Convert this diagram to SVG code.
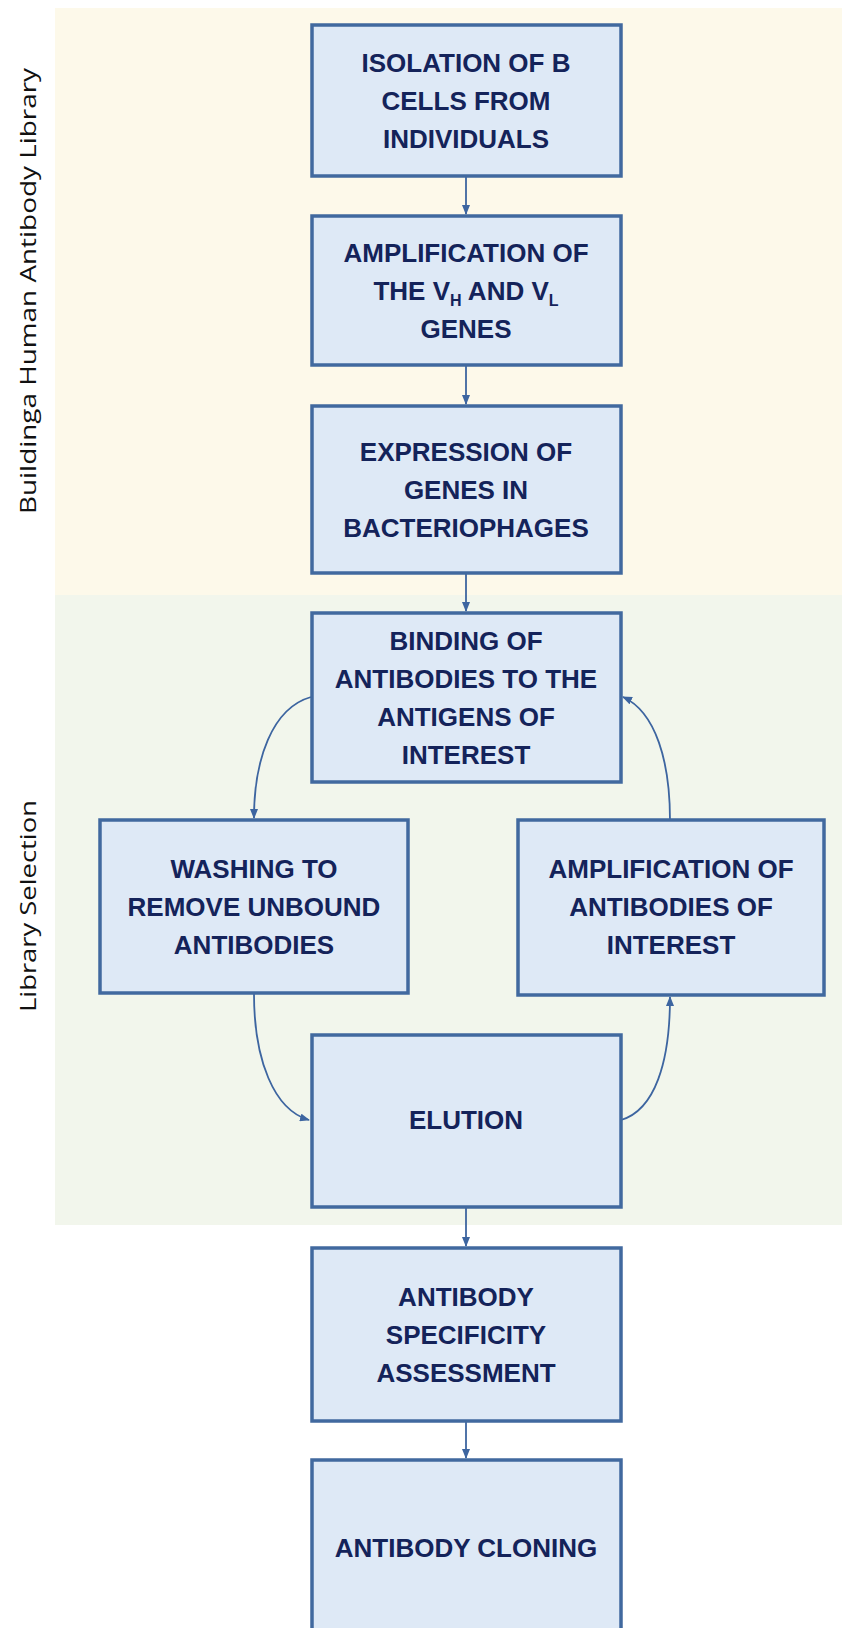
<svg xmlns="http://www.w3.org/2000/svg" width="842" height="1628" viewBox="0 0 842 1628">
<style>
.box{fill:#DEE9F6;stroke:#41699F;stroke-width:3.5}
.t{font-family:"Liberation Sans",Arial,sans-serif;font-weight:bold;font-size:26px;fill:#14235A;text-anchor:middle}
.sub{font-size:16px}
.lab{font-family:"Open Sans","DejaVu Sans",sans-serif;font-size:22px;fill:#111;text-anchor:middle}
.c{fill:none;stroke:#3D65A0;stroke-width:1.8}
</style>
<defs>
<marker id="ah" markerWidth="10" markerHeight="8" refX="9" refY="4" orient="auto" markerUnits="userSpaceOnUse">
<path d="M0,0 L10,4 L0,8 Z" fill="#3D65A0"/>
</marker>
</defs>
<rect width="842" height="1628" fill="#ffffff"/>
<rect x="55" y="8" width="787" height="587" fill="#FDF9EA"/>
<rect x="55" y="595" width="787" height="630" fill="#F2F6EC"/>
<text class="lab" transform="translate(36,291) rotate(-90)" textLength="446" lengthAdjust="spacingAndGlyphs">Buildinga Human Antibody Library</text>
<text class="lab" transform="translate(36,906) rotate(-90)" textLength="212" lengthAdjust="spacingAndGlyphs">Library Selection</text>

<g id="connectors">
<path class="c" d="M466,176 V214" marker-end="url(#ah)"/>
<path class="c" d="M466,365 V404" marker-end="url(#ah)"/>
<path class="c" d="M466,573 V611" marker-end="url(#ah)"/>
<path class="c" d="M311,697 C272,708 254,760 254,818" marker-end="url(#ah)"/>
<path class="c" d="M670,820 C670,762 656,712 623,697" marker-end="url(#ah)"/>
<path class="c" d="M254,994 C254,1060 274,1110 309,1120" marker-end="url(#ah)"/>
<path class="c" d="M621,1120 C655,1110 670,1062 670,997" marker-end="url(#ah)"/>
<path class="c" d="M466,1207 V1246" marker-end="url(#ah)"/>
<path class="c" d="M466,1421 V1458" marker-end="url(#ah)"/>
</g>

<g id="n1"><rect class="box" x="312" y="25" width="309" height="151"/>
<text class="t" x="466" y="72">ISOLATION OF B</text>
<text class="t" x="466" y="110">CELLS FROM</text>
<text class="t" x="466" y="148">INDIVIDUALS</text></g>

<g id="n2"><rect class="box" x="312" y="216" width="309" height="149"/>
<text class="t" x="466" y="262">AMPLIFICATION OF</text>
<text class="t" x="466" y="300">THE V<tspan class="sub" dy="6">H</tspan><tspan dy="-6"> AND V</tspan><tspan class="sub" dy="6">L</tspan></text>
<text class="t" x="466" y="338">GENES</text></g>

<g id="n3"><rect class="box" x="312" y="406" width="309" height="167"/>
<text class="t" x="466" y="461">EXPRESSION OF</text>
<text class="t" x="466" y="499">GENES IN</text>
<text class="t" x="466" y="537">BACTERIOPHAGES</text></g>

<g id="n4"><rect class="box" x="312" y="613" width="309" height="169"/>
<text class="t" x="466" y="650">BINDING OF</text>
<text class="t" x="466" y="688">ANTIBODIES TO THE</text>
<text class="t" x="466" y="726">ANTIGENS OF</text>
<text class="t" x="466" y="764">INTEREST</text></g>

<g id="n5"><rect class="box" x="100" y="820" width="308" height="173"/>
<text class="t" x="254" y="878">WASHING TO</text>
<text class="t" x="254" y="916">REMOVE UNBOUND</text>
<text class="t" x="254" y="954">ANTIBODIES</text></g>

<g id="n6"><rect class="box" x="518" y="820" width="306" height="175"/>
<text class="t" x="671" y="878">AMPLIFICATION OF</text>
<text class="t" x="671" y="916">ANTIBODIES OF</text>
<text class="t" x="671" y="954">INTEREST</text></g>

<g id="n7"><rect class="box" x="312" y="1035" width="309" height="172"/>
<text class="t" x="466" y="1129">ELUTION</text></g>

<g id="n8"><rect class="box" x="312" y="1248" width="309" height="173"/>
<text class="t" x="466" y="1306">ANTIBODY</text>
<text class="t" x="466" y="1344">SPECIFICITY</text>
<text class="t" x="466" y="1382">ASSESSMENT</text></g>

<g id="n9"><rect class="box" x="312" y="1460" width="309" height="175"/>
<text class="t" x="466" y="1557">ANTIBODY CLONING</text></g>
</svg>
